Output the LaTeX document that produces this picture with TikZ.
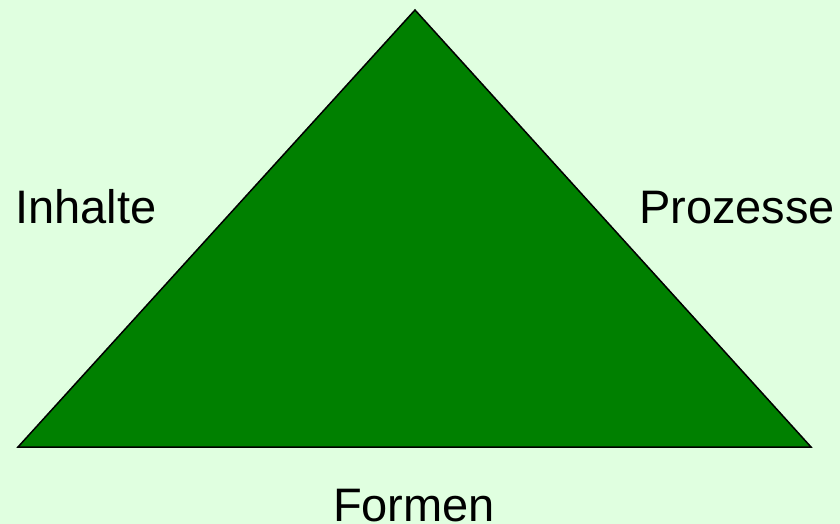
\documentclass[tikz,border=0pt]{standalone}
\usepackage{fontspec}
\setmainfont{Liberation Sans}
\definecolor{bg}{HTML}{E0FFE0}
\definecolor{tri}{HTML}{008000}
\begin{document}
\begin{tikzpicture}[x=1pt,y=-1pt,
  lbl/.style={inner sep=0pt,font=\fontsize{47}{56}\selectfont,text=black}]
\fill[bg] (0,0) rectangle (840,524);
\useasboundingbox (0,0) rectangle (840,524);
\coordinate (top) at (415,10);
\coordinate (bl) at (18,447);
\coordinate (br) at (811,447);
\filldraw[fill=tri,draw=black,line width=1.5pt,line join=miter] (top) -- (br) -- (bl) -- cycle;
\node[lbl,anchor=base west] (inh) at (15,223) {Inhalte};
\node[lbl,anchor=base west] (pro) at (639,223) {Prozesse};
\node[lbl,anchor=base] (for) at (414,521) {Formen};
\end{tikzpicture}
\end{document}
